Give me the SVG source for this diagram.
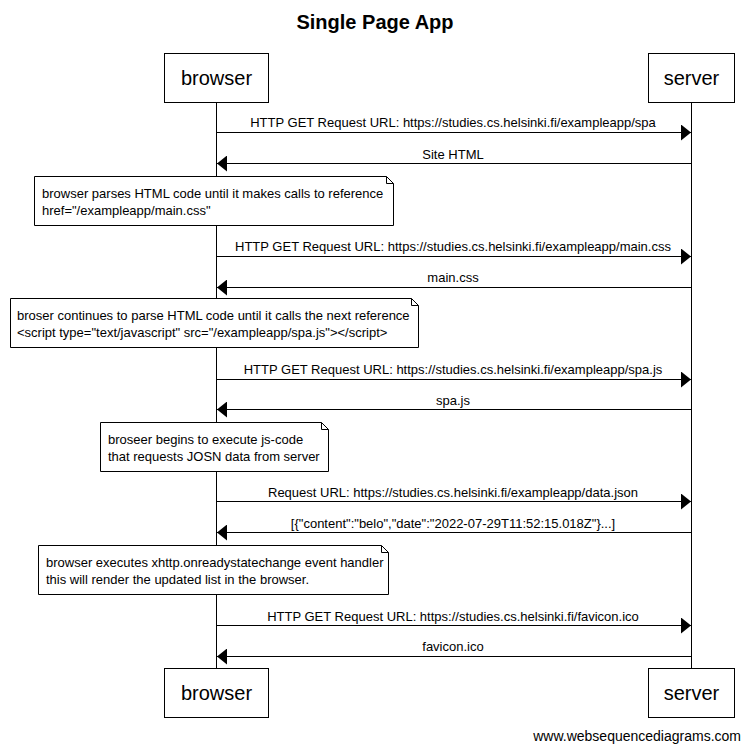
<svg xmlns="http://www.w3.org/2000/svg" width="749" height="752" viewBox="0 0 749 752">
<defs>
<style>
text{font-family:"Liberation Sans",Arial,sans-serif;fill:#000}
.title{font-size:20px;font-weight:bold;text-anchor:middle}
.actor rect{fill:#fff;stroke:#000;stroke-width:1}
.actor text{font-size:20px;text-anchor:middle}
.life{stroke:#000;stroke-width:1}
.msg line{stroke:#000;stroke-width:1}
.msg text{font-size:13px;text-anchor:middle}
.note path{fill:#fff;stroke:#000;stroke-width:1}
.note text{font-size:13px}
.foot{font-size:14px;text-anchor:end}
</style>
<marker id="ah" viewBox="0 0 10 16" refX="10" refY="8" markerWidth="10" markerHeight="16" markerUnits="userSpaceOnUse" orient="auto"><path d="M0,0 L10,8 L0,16 Z" fill="#000"/></marker>
</defs>
<rect width="749" height="752" fill="#fff"/>
<text class="title" x="375" y="29">Single Page App</text>
<g id="lifelines">
<line class="life" x1="216.5" y1="102" x2="216.5" y2="668"/>
<line class="life" x1="691.5" y1="102" x2="691.5" y2="668"/>
</g>
<g id="browser-top" class="actor"><rect x="164.5" y="53.5" width="104" height="49"/><text x="216.5" y="85">browser</text></g>
<g id="server-top" class="actor"><rect x="648.5" y="53.5" width="86" height="49"/><text x="691.5" y="85">server</text></g>
<g id="browser-bottom" class="actor"><rect x="164.5" y="668.5" width="104" height="49"/><text x="216.5" y="700">browser</text></g>
<g id="server-bottom" class="actor"><rect x="648.5" y="668.5" width="86" height="49"/><text x="691.5" y="700">server</text></g>
<g id="connectors">
<g class="msg"><line x1="216.5" y1="132.5" x2="691" y2="132.5" marker-end="url(#ah)"/><text x="453" y="127">HTTP GET Request URL: https://studies.cs.helsinki.fi/exampleapp/spa</text></g>
<g class="msg"><line x1="691.5" y1="163.5" x2="217" y2="163.5" marker-end="url(#ah)"/><text x="453" y="159">Site HTML</text></g>
<g class="msg"><line x1="216.5" y1="256.5" x2="691" y2="256.5" marker-end="url(#ah)"/><text x="453" y="251">HTTP GET Request URL: https://studies.cs.helsinki.fi/exampleapp/main.css</text></g>
<g class="msg"><line x1="691.5" y1="287.5" x2="217" y2="287.5" marker-end="url(#ah)"/><text x="453" y="282">main.css</text></g>
<g class="msg"><line x1="216.5" y1="379.5" x2="691" y2="379.5" marker-end="url(#ah)"/><text x="453" y="374">HTTP GET Request URL: https://studies.cs.helsinki.fi/exampleapp/spa.js</text></g>
<g class="msg"><line x1="691.5" y1="409.5" x2="217" y2="409.5" marker-end="url(#ah)"/><text x="453" y="405">spa.js</text></g>
<g class="msg"><line x1="216.5" y1="501.5" x2="691" y2="501.5" marker-end="url(#ah)"/><text x="453" y="497">Request URL: https://studies.cs.helsinki.fi/exampleapp/data.json</text></g>
<g class="msg"><line x1="691.5" y1="532.5" x2="217" y2="532.5" marker-end="url(#ah)"/><text x="453" y="528">[{"content":"belo","date":"2022-07-29T11:52:15.018Z"}...]</text></g>
<g class="msg"><line x1="216.5" y1="625.5" x2="691" y2="625.5" marker-end="url(#ah)"/><text x="453" y="621">HTTP GET Request URL: https://studies.cs.helsinki.fi/favicon.ico</text></g>
<g class="msg"><line x1="691.5" y1="656.5" x2="217" y2="656.5" marker-end="url(#ah)"/><text x="453" y="651">favicon.ico</text></g>
</g>
<g id="note1" class="note"><path d="M34.5,176.5 H386.5 L393.5,183.5 V225.5 H34.5 Z M386.5,176.5 V183.5 H393.5"/><text x="42" y="198">browser parses HTML code until it makes calls to reference</text><text x="42" y="215">href="/exampleapp/main.css"</text></g>
<g id="note2" class="note"><path d="M10.5,298.5 H411.5 L418.5,305.5 V347.5 H10.5 Z M411.5,298.5 V305.5 H418.5"/><text x="17" y="320">broser continues to parse HTML code until it calls the next reference</text><text x="17" y="337">&lt;script type="text/javascript" src="/exampleapp/spa.js"&gt;&lt;/script&gt;</text></g>
<g id="note3" class="note"><path d="M100.5,422.5 H321.5 L328.5,429.5 V471.5 H100.5 Z M321.5,422.5 V429.5 H328.5"/><text x="108" y="444">broseer begins to execute js-code</text><text x="108" y="461">that requests JOSN data from server</text></g>
<g id="note4" class="note"><path d="M38.5,545.5 H381.5 L388.5,552.5 V594.5 H38.5 Z M381.5,545.5 V552.5 H388.5"/><text x="46" y="567">browser executes xhttp.onreadystatechange event handler</text><text x="46" y="584">this will render the updated list in the browser.</text></g>
<text class="foot" x="741" y="741">www.websequencediagrams.com</text>
</svg>
